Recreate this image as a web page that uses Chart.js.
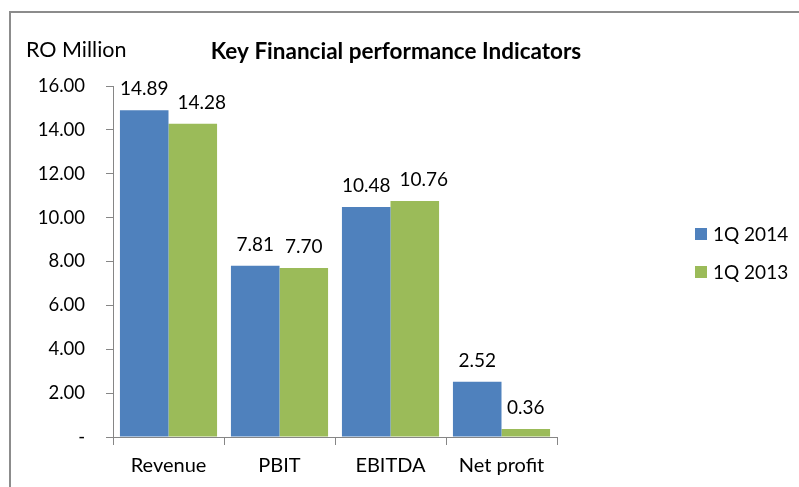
<!DOCTYPE html>
<html>
<head>
<meta charset="utf-8">
<script src="https://cdn.jsdelivr.net/npm/chart.js@4"></script>
<style>
  html, body { margin: 0; padding: 0; background: #fff; }
  #wrap { width: 799px; height: 487px; }
</style>
</head>
<body>
<div id="wrap"><canvas id="kpiChart" width="799" height="487"></canvas></div>
<script>
const categories = ['Revenue', 'PBIT', 'EBITDA', 'Net profit'];
const q1_2014 = [14.89, 7.81, 10.48, 2.52];
const q1_2013 = [14.28, 7.70, 10.76, 0.36];
const seriesNames = ['1Q 2014', '1Q 2013'];
const seriesColors = ['#4F81BD', '#9BBB59'];

const FONT = 'Lato, Calibri, Carlito, sans-serif';
const AXIS_GREY = '#868686';

// frame, titles, value labels and legend drawn by hand
const decorations = {
  id: 'decorations',
  beforeDraw(chart) {
    const ctx = chart.ctx;
    ctx.save();
    ctx.fillStyle = '#fff';
    ctx.fillRect(0, 0, chart.width, chart.height);
    ctx.strokeStyle = '#8c8c8c';
    ctx.lineWidth = 2;
    ctx.beginPath();
    ctx.moveTo(10, chart.height + 5);
    ctx.lineTo(10, 12);
    ctx.lineTo(chart.width + 5, 12);
    ctx.stroke();
    ctx.restore();
  },
  afterDraw(chart) {
    const ctx = chart.ctx;
    ctx.save();
    ctx.fillStyle = '#000';
    ctx.textBaseline = 'middle';
    ctx.font = '21.5px ' + FONT;
    ctx.textAlign = 'left';
    ctx.fillText('RO Million', 26, 50);
    ctx.font = 'bold 22.5px ' + FONT;
    ctx.textAlign = 'center';
    ctx.fillText('Key Financial performance Indicators', 396, 52);

    // values over bars; second series label pushed right if it would touch the first
    ctx.font = '19px ' + FONT;
    ctx.textBaseline = 'alphabetic';
    ctx.textAlign = 'left';
    const first = chart.getDatasetMeta(0).data;
    const second = chart.getDatasetMeta(1).data;
    categories.forEach((c, j) => {
      const t1 = q1_2014[j].toFixed(2);
      const t2 = q1_2013[j].toFixed(2);
      const w1 = ctx.measureText(t1).width;
      const w2 = ctx.measureText(t2).width;
      const x1 = first[j].x - w1 / 2;
      let x2 = second[j].x - w2 / 2;
      if (x2 < x1 + w1 + 9) x2 = x1 + w1 + 9;
      ctx.fillText(t1, x1, first[j].y - 15);
      ctx.fillText(t2, x2, second[j].y - 15);
    });

    // legend
    ctx.textBaseline = 'middle';
    chart.data.datasets.forEach((ds, i) => {
      const y = 234 + i * 38;
      ctx.fillStyle = ds.backgroundColor;
      ctx.fillRect(695, y - 6, 12, 12);
      ctx.fillStyle = '#000';
      ctx.fillText(ds.label, 713, y + 1);
    });
    ctx.restore();
  }
};

new Chart(document.getElementById('kpiChart'), {
  type: 'bar',
  data: {
    labels: categories,
    datasets: [
      { label: seriesNames[0], data: q1_2014, backgroundColor: seriesColors[0] },
      { label: seriesNames[1], data: q1_2013, backgroundColor: seriesColors[1] }
    ]
  },
  options: {
    responsive: false,
    animation: false,
    layout: { padding: { top: 86, right: 242, bottom: 0, left: 0 } },
    datasets: {
      bar: { categoryPercentage: 0.875, barPercentage: 1 }
    },
    scales: {
      x: {
        grid: { display: true, drawOnChartArea: false, color: AXIS_GREY, tickLength: 8, offset: true },
        border: { display: true, color: AXIS_GREY },
        ticks: { color: '#000', font: { family: FONT, size: 20 }, padding: 9 },
        afterFit(scale) { scale.height = 50; }
      },
      y: {
        min: 0,
        max: 16,
        grid: { display: true, drawOnChartArea: false, color: AXIS_GREY, tickLength: 7 },
        border: { display: true, color: AXIS_GREY },
        ticks: {
          stepSize: 2,
          color: '#000',
          font: { family: FONT, size: 18.5 },
          padding: 21,
          callback: v => v === 0 ? '-' : v.toFixed(2)
        },
        afterFit(scale) { scale.width = 113; }
      }
    },
    plugins: {
      legend: { display: false },
      title: { display: false },
      tooltip: { enabled: false }
    }
  },
  plugins: [decorations]
});
</script>
</body>
</html>
